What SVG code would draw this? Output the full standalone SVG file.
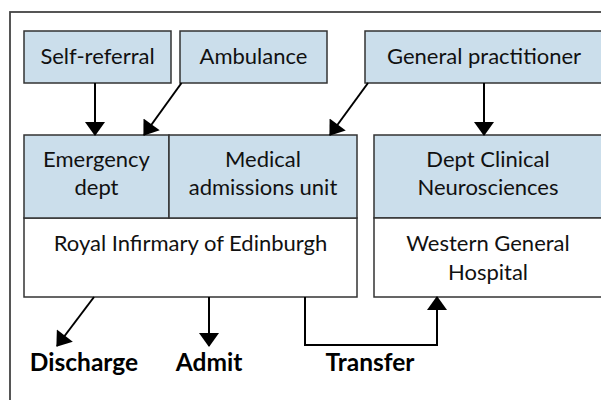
<svg xmlns="http://www.w3.org/2000/svg" width="601" height="400" viewBox="0 0 601 400">
<defs>
<marker id="ah" markerUnits="userSpaceOnUse" markerWidth="20" markerHeight="20" viewBox="0 0 14 20" refX="13" refY="10" orient="auto">
<path d="M0,0 L14,10 L0,20 Z" fill="#000"/>
</marker>
</defs>
<style>
.box{fill:#cbdeeb;stroke:#333;stroke-width:1.5}
.wbox{fill:#fff;stroke:#333;stroke-width:1.5}
.t{font-family:Lato,"Open Sans","Liberation Sans",sans-serif;font-size:22px;fill:#111;text-anchor:middle}
.b{font-family:Lato,"Open Sans","Liberation Sans",sans-serif;font-size:24.5px;font-weight:bold;fill:#000;text-anchor:middle}
.c{stroke:#000;stroke-width:2;fill:none;marker-end:url(#ah)}
</style>
<rect width="601" height="400" fill="#fff"/>
<rect x="10" y="12" width="640" height="440" fill="none" stroke="#444" stroke-width="1.8"/>
<g id="self-referral"><rect class="box" x="24" y="31" width="147" height="52"/><text class="t" x="97.5" y="64">Self-referral</text></g>
<g id="ambulance"><rect class="box" x="180" y="31" width="147" height="52"/><text class="t" x="253.5" y="64">Ambulance</text></g>
<g id="gp"><rect class="box" x="365" y="31" width="250" height="52"/><text class="t" x="484" y="64">General practitioner</text></g>
<g id="royal-infirmary"><rect class="wbox" x="24" y="218" width="333" height="79"/><text class="t" x="190.5" y="251">Royal Infirmary of Edinburgh</text></g>
<g id="emergency"><rect class="box" x="24" y="135" width="145" height="83"/><text class="t" x="96.5" y="167">Emergency</text><text class="t" x="96.5" y="195">dept</text></g>
<g id="medical-admissions"><rect class="box" x="169" y="135" width="188" height="83"/><text class="t" x="263" y="167">Medical</text><text class="t" x="263" y="195">admissions unit</text></g>
<g id="neurosciences"><rect class="box" x="374" y="135" width="250" height="83"/><text class="t" x="488" y="167">Dept Clinical</text><text class="t" x="488" y="195">Neurosciences</text></g>
<g id="western-general"><rect class="wbox" x="374" y="218" width="250" height="79"/><text class="t" x="488" y="251">Western General</text><text class="t" x="488" y="280">Hospital</text></g>
<g id="connectors">
<line class="c" x1="95" y1="83" x2="95" y2="135"/>
<line class="c" x1="181.5" y1="83" x2="144" y2="135"/>
<line class="c" x1="368" y1="83" x2="330" y2="135"/>
<line class="c" x1="484" y1="83" x2="484" y2="135"/>
<line class="c" x1="94" y1="297" x2="57" y2="346"/>
<line class="c" x1="209" y1="297" x2="209" y2="346"/>
<polyline class="c" points="305,297 305,345 437,345 437,297"/>
</g>
<g id="labels">
<text class="b" x="84" y="371">Discharge</text>
<text class="b" x="209" y="371">Admit</text>
<text class="b" x="370" y="371">Transfer</text>
</g>
</svg>
